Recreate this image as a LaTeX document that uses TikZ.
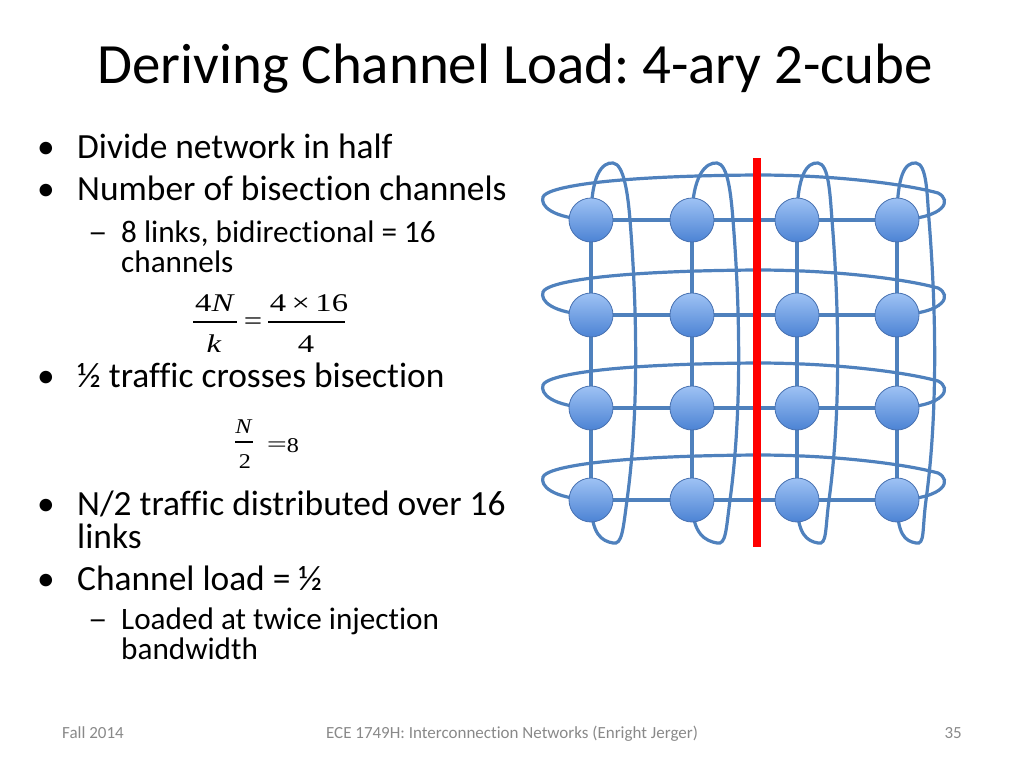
\documentclass[tikz,border=0pt]{standalone}
\usepackage{fontspec}
\setmainfont{Carlito}[Ligatures=NoCommon]
\newfontfamily\tnr{Liberation Serif}[Ligatures=NoCommon]
\definecolor{linkblue}{RGB}{79,129,189}
\definecolor{nodetop}{RGB}{158,194,244}
\definecolor{nodebot}{RGB}{76,131,212}
\definecolor{nodeedge}{RGB}{70,112,176}
\definecolor{footgray}{RGB}{137,137,137}
\pgfdeclarelayer{bg}
\pgfsetlayers{bg,main}
\frenchspacing
\begin{document}
\begin{tikzpicture}[x=1pt,y=-1pt,
  link/.style={draw=linkblue, line width=3.2pt},
  cut/.style={draw=red, line width=8pt},
  torus/.style={circle, minimum size=44pt, inner sep=0pt, draw=nodeedge, line width=0.8pt, top color=nodetop, bottom color=nodebot},
  titletext/.style={anchor=base west, inner sep=0pt, font=\fontsize{56.9}{60}\selectfont},
  lvlone/.style={anchor=base west, inner sep=0pt, font=\fontsize{35.4}{38}\selectfont},
  lvltwo/.style={anchor=base west, inner sep=0pt, font=\fontsize{31.2}{34}\selectfont},
  footer/.style={inner sep=0pt, text=footgray, font=\fontsize{17}{20}\selectfont},
  eqbig/.style={inner sep=0pt, font=\tnr\fontsize{25.5}{28}\selectfont},
  eqsmall/.style={inner sep=0pt, font=\tnr\fontsize{21}{24}\selectfont},
  fracbar/.style={draw=black, line width=1.3pt}]
\useasboundingbox (0,0) rectangle (1024,768);

% title
\node[titletext] (title) at (97,83) {Deriving Channel Load: 4-ary 2-cube};

% bullets
\node[lvlone] (d1) at (37,158) {•};
\node[lvlone] (t1) at (77,158) {Divide network in half};
\node[lvlone] (d2) at (37,200) {•};
\node[lvlone] (t2) at (77,200) {Number of bisection channels};
\node[lvltwo] (d3) at (88,242) {\scalebox{1.25}[1]{–}};
\node[lvltwo] (t3) at (121,242) {8 links, bidirectional = 16};
\node[lvltwo] (t4) at (121,272) {channels};
\node[lvlone] (d5) at (37,387) {•};
\node[lvlone] (t5) at (77,387) {½ traffic crosses bisection};
\node[lvlone] (d6) at (37,515) {•};
\node[lvlone] (t6) at (77,515) {N/2 traffic distributed over 16};
\node[lvlone] (t7) at (77,548) {links};
\node[lvlone] (d8) at (37,590) {•};
\node[lvlone] (t8) at (77,590) {Channel load = ½};
\node[lvltwo] (d9) at (88,629) {\scalebox{1.25}[1]{–}};
\node[lvltwo] (t9) at (121,629) {Loaded at twice injection};
\node[lvltwo] (t10) at (121,659) {bandwidth};

% formula 1
\node[eqbig, anchor=base] (f1n) at (215,311) {\scalebox{1.28}[1]{4\textit{N}}};
\draw[fracbar] (193,322) -- (237,322);
\node[eqbig, anchor=base] (f1d) at (214,352) {\scalebox{1.28}[1]{\textit{k}}};
\node[eqbig, anchor=base] (f1e) at (253,329) {\scalebox{1.28}[1]{=}};
\node[eqbig, anchor=base] (f1n2) at (309,311) {\scalebox{1.28}[1]{4\,×\,16}};
\draw[fracbar] (268,322) -- (345,322);
\node[eqbig, anchor=base] (f1d2) at (306,352) {\scalebox{1.28}[1]{4}};

% formula 2
\node[eqsmall, anchor=base] (f2n) at (244,433) {\scalebox{1.15}[1]{\textit{N}}};
\draw[fracbar, line width=1.1pt] (235,442) -- (253,442);
\node[eqsmall, anchor=base] (f2d) at (245,468) {\scalebox{1.15}[1]{2}};
\node[eqsmall, anchor=base] (f2e) at (277,451) {\scalebox{1.7}[1]{=}};
\node[eqsmall, anchor=base] (f2r) at (293,452) {\scalebox{1.15}[1]{8}};

% torus nodes
\foreach \r/\Y in {1/220,2/315,3/408,4/500}{
  \foreach \c/\X in {1/591,2/692,3/797,4/897}{
    \node[torus] (n\r\c) at (\X,\Y) {};
  }
}

\begin{pgfonlayer}{bg}
% horizontal wrap-around links
\foreach \r/\Y in {1/220,2/315,3/408,4/500}{
  \draw[link] (n\r1.center) .. controls (552,{\Y-2}) and (540,{\Y-14}) .. (543,{\Y-23})
    .. controls (546,{\Y-32}) and (600,{\Y-44}) .. (757,{\Y-45})
    .. controls (835,{\Y-45}) and (905,{\Y-36}) .. (938,{\Y-27})
    .. controls (952,{\Y-20}) and (946,{\Y-2}) .. (n\r4.center);
  \draw[link] (n\r1.center) -- (n\r2.center);
  \draw[link] (n\r2.center) -- (n\r3.center);
  \draw[link] (n\r3.center) -- (n\r4.center);
}
% vertical wrap-around links
\foreach \c/\X/\d/\p in {1/591/39/22,2/692/41/25,3/797/35/21,4/897/32/19}{
  \draw[link] (n1\c.center) .. controls (\X,175) and ({\X+\p-11},162) .. ({\X+\p},163)
    .. controls ({\X+\p+11},164) and ({\X+\d-2},195) .. ({\X+\d},220)
    .. controls ({\X+\d+8},320) and ({\X+\d+8},420) .. ({\X+\d-3},500)
    .. controls ({\X+\d-7},530) and ({\X+\p+9},545) .. ({\X+\p},543)
    .. controls ({\X+\p-11},541) and (\X,535) .. (n4\c.center);
  \draw[link] (n1\c.center) -- (n2\c.center);
  \draw[link] (n2\c.center) -- (n3\c.center);
  \draw[link] (n3\c.center) -- (n4\c.center);
}
% bisection cut
\coordinate (cuttop) at (757,158);
\coordinate (cutbot) at (757,547);
\draw[cut] (cuttop) -- (cutbot);
\end{pgfonlayer}

% footer
\node[footer, anchor=base west] (fl) at (62,738) {Fall 2014};
\node[footer, anchor=base] (fc) at (512,738) {ECE 1749H: Interconnection Networks (Enright Jerger)};
\node[footer, anchor=base east] (fr) at (962,738) {35};
\end{tikzpicture}
\end{document}
